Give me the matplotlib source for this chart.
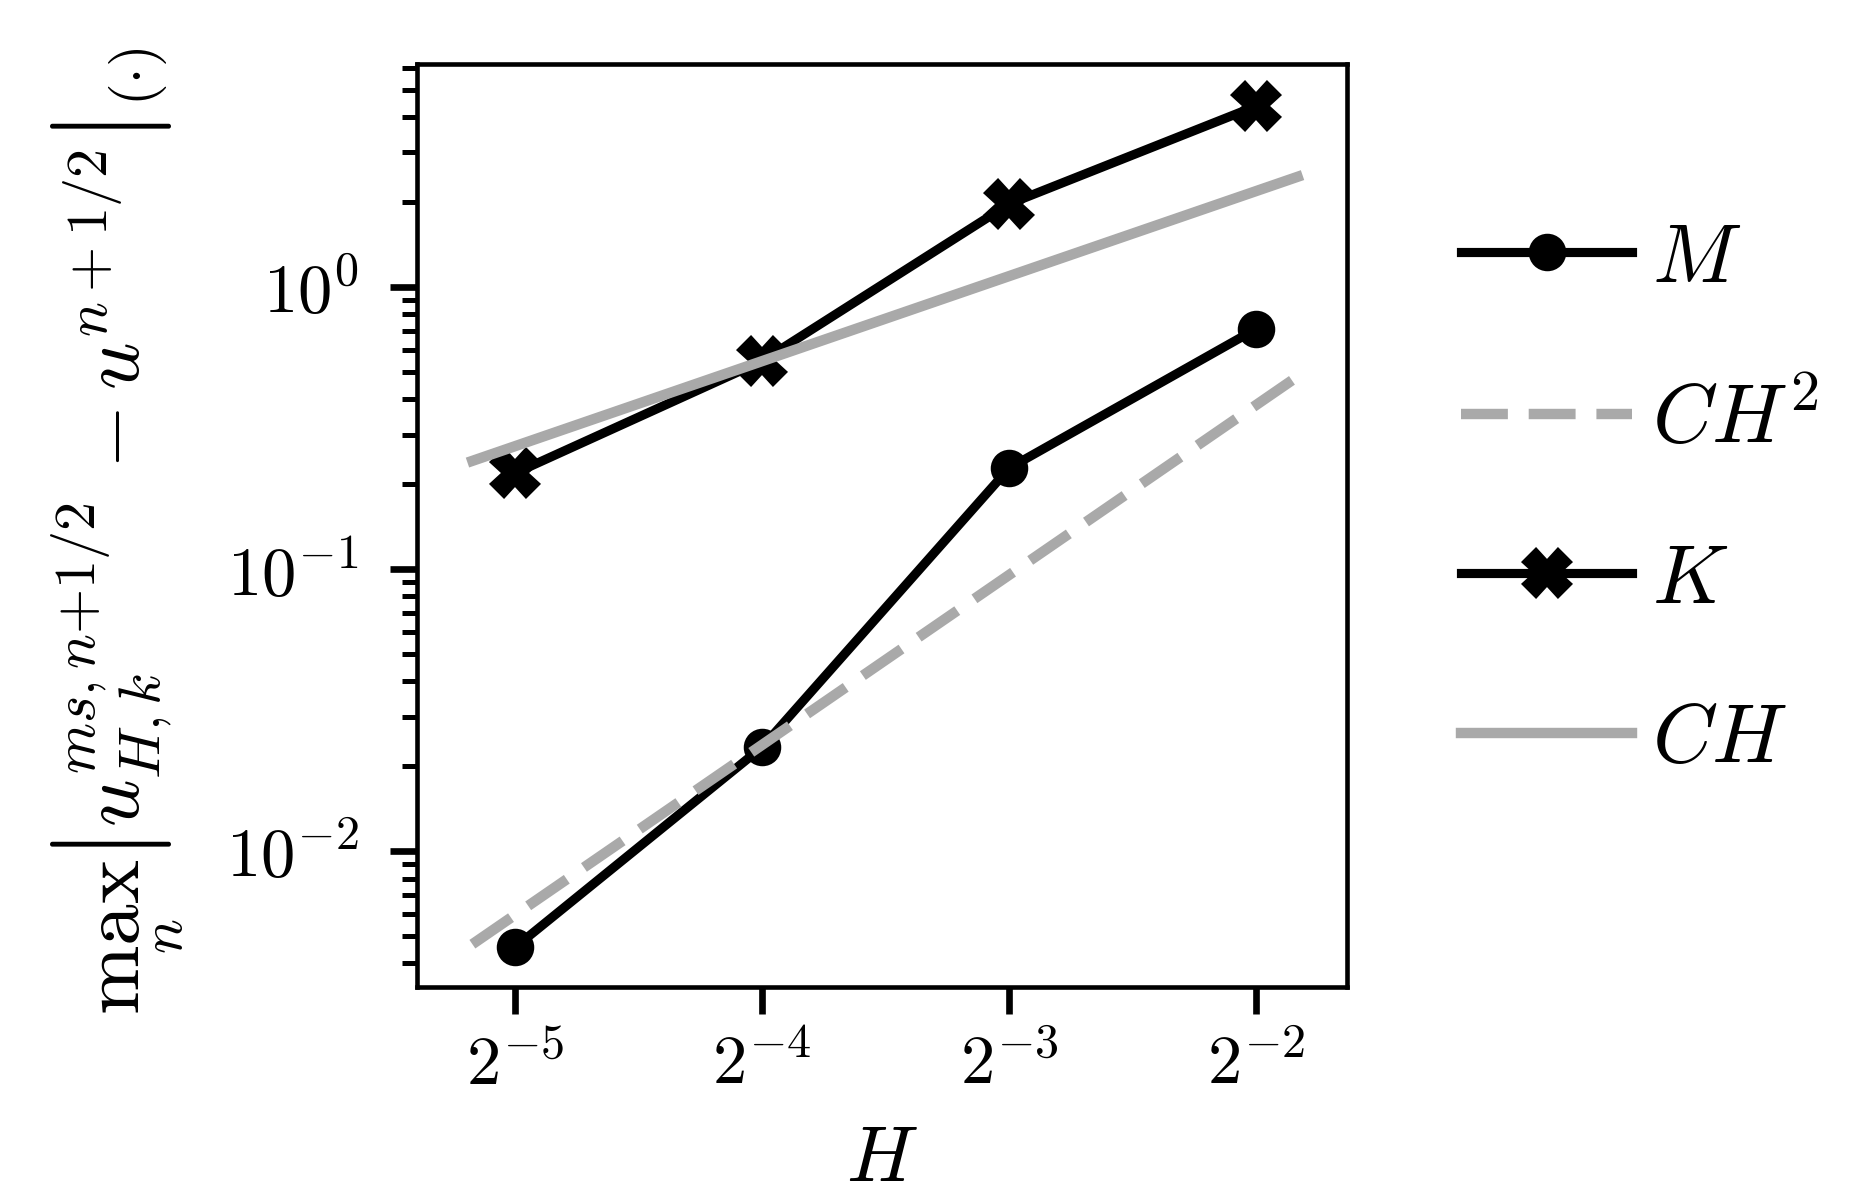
import matplotlib
matplotlib.use("Agg")
import matplotlib.pyplot as plt
from matplotlib.ticker import FixedLocator, NullLocator

plt.rcParams['mathtext.fontset'] = 'cm'
plt.rcParams['font.family'] = 'serif'
plt.rcParams['font.serif'] = ['cmr10', 'DejaVu Serif']
plt.rcParams['axes.formatter.use_mathtext'] = True

# mesh sizes H and errors
H = [1/32, 1/16, 1/8, 1/4]
H_labels = [r'$2^{-5}$', r'$2^{-4}$', r'$2^{-3}$', r'$2^{-2}$']
err_M = [0.00457, 0.0234, 0.228, 0.71]
err_K = [0.219, 0.547, 1.97, 4.38]

# reference slopes, end points only
ref_H = [0.0277, 0.281]
ref_CH2 = [0.00468, 0.482]
ref_CH = [0.242, 2.46]

gray = '#a9a9a9'

fig = plt.figure(figsize=(6.19, 4.0), dpi=300)
ax = fig.add_axes([0.2246, 0.1775, 0.5008, 0.7692])

ax.plot(H, err_M, color='k', lw=2.2, marker='o', ms=8, label=r'$M$')
ax.plot(ref_H, ref_CH2, color=gray, lw=2.5, linestyle=(0, (4.5, 2.0)), label=r'$CH^2$')
ax.plot(H, err_K, color='k', lw=2.2, marker='X', ms=11, label=r'$K$')
ax.plot(ref_H, ref_CH, color=gray, lw=2.5, label=r'$CH$')

ax.set_xscale('log')
ax.set_yscale('log')
ax.set_xlim(2**-5.398, 2**-1.631)
ax.set_ylim(0.0033, 6.18)

ax.xaxis.set_major_locator(FixedLocator(H))
ax.xaxis.set_minor_locator(NullLocator())
ax.set_xticklabels(H_labels)

ax.tick_params(which='major', length=6.5, width=1.6, labelsize=16.5)
ax.tick_params(axis='x', which='major', pad=5)
ax.tick_params(axis='y', which='major', pad=7.5)
ax.tick_params(which='minor', length=3.6, width=1.2)
for sp in ax.spines.values():
    sp.set_linewidth(1.1)

ax.set_xlabel(r'$H$', fontsize=19, labelpad=6.5)
ax.set_ylabel(r'$\max_n\left|u^{ms,n+1/2}_{H,k}-u^{n+1/2}\right|_{(\cdot)}$', fontsize=20, labelpad=9.5)
ax.yaxis.label.set_y(0.493)

ax.legend(loc='center left', bbox_to_anchor=(1.042, 0.527), frameon=False,
          fontsize=20, handlelength=2.05, handletextpad=0.24, labelspacing=1.02)

fig.savefig('out.png', dpi=300)
